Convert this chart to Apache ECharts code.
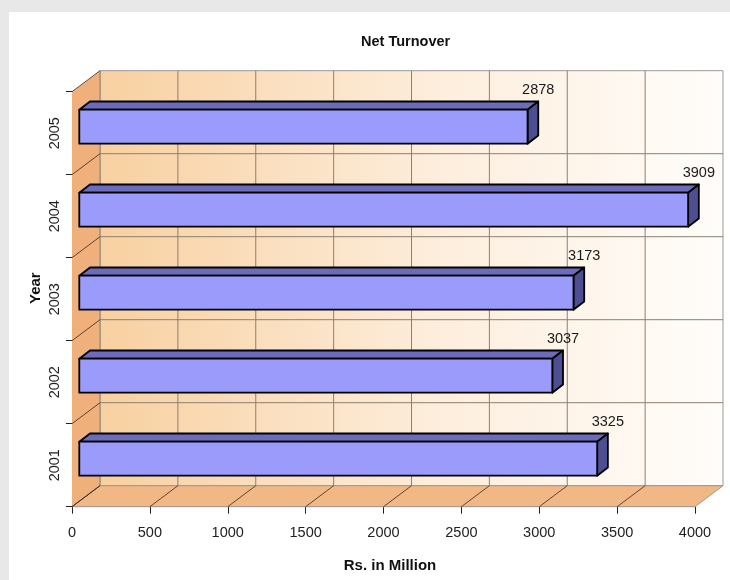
<!DOCTYPE html>
<html>
<head>
<meta charset="utf-8">
<title>Net Turnover</title>
<script src="https://cdn.jsdelivr.net/npm/echarts@6.0.0/dist/echarts.min.js"></script>
<style>
  html, body { margin: 0; padding: 0; background: #e8e8e8; }
  #panel { position: absolute; left: 9px; top: 12px; width: 721px; height: 568px; background: #ffffff; }
  #chart { position: absolute; left: 0; top: 0; width: 730px; height: 580px; }
</style>
</head>
<body>
<div id="panel"></div>
<div id="chart"></div>
<script>
// Net turnover by year, Rs. in Million
const years = ['2001', '2002', '2003', '2004', '2005'];
const turnover = [3325, 3037, 3173, 3909, 2878];
const xMin = 0;
const xMax = 4000;
const xStep = 500;

const FONT = 'Arial, "Liberation Sans", Helvetica, sans-serif';

// Pseudo-3D depth of the plot box (pixels)
const DX = 28, DY = -21;
// Bars sit part-way into the box
const FDX = 7.3, FDY = -6.5;   // offset of a bar's front face
const BDX = 10.7, BDY = -8.2;  // depth of a bar
const BAR_FRAC = 0.41;         // bar thickness as share of a category band

const GRID_COLOR = '#8c8070';
const EDGE_COLOR = '#9a9a9a';

function renderFrame(params, api) {
  const cs = params.coordSys;
  const x0 = cs.x, x1 = cs.x + cs.width;
  const yT = cs.y, yB = cs.y + cs.height;
  const n = years.length;
  const band = cs.height / n;
  const kids = [];

  // back wall
  kids.push({
    type: 'rect',
    shape: { x: x0 + DX, y: yT + DY, width: cs.width, height: cs.height },
    style: {
      fill: new echarts.graphic.LinearGradient(0, 0, 1, 0, [
        { offset: 0, color: '#f8d0a0' },
        { offset: 0.55, color: '#fdeedd' },
        { offset: 1, color: '#fffdfa' }
      ]),
      stroke: EDGE_COLOR, lineWidth: 1
    }
  });
  // left wall
  kids.push({
    type: 'polygon',
    shape: { points: [[x0, yT], [x0 + DX, yT + DY], [x0 + DX, yB + DY], [x0, yB]] },
    style: { fill: '#efb07b' }
  });
  // floor
  kids.push({
    type: 'polygon',
    shape: { points: [[x0, yB], [x0 + DX, yB + DY], [x1 + DX, yB + DY], [x1, yB]] },
    style: { fill: '#f1b784', stroke: EDGE_COLOR, lineWidth: 1 }
  });

  // vertical grid on back wall, diagonals on floor
  for (let v = xMin; v < xMax; v += xStep) {
    const px = api.coord([v, 0])[0];
    kids.push({
      type: 'line',
      shape: { x1: px + DX, y1: yT + DY, x2: px + DX, y2: yB + DY },
      style: { stroke: GRID_COLOR, lineWidth: 1 }
    });
    kids.push({
      type: 'line',
      shape: { x1: px, y1: yB, x2: px + DX, y2: yB + DY },
      style: { stroke: '#3a2a1a', lineWidth: 0.8 }
    });
  }
  // horizontal grid on back wall, diagonals on left wall
  for (let k = 0; k <= n; k++) {
    const py = yB - k * band;
    if (k > 0 && k < n) {
      kids.push({
        type: 'line',
        shape: { x1: x0 + DX, y1: py + DY, x2: x1 + DX, y2: py + DY },
        style: { stroke: GRID_COLOR, lineWidth: 1 }
      });
    }
    kids.push({
      type: 'line',
      shape: { x1: x0, y1: py, x2: x0 + DX, y2: py + DY },
      style: { stroke: '#3a2a1a', lineWidth: 0.8 }
    });
  }
  return { type: 'group', children: kids };
}

function renderBar(params, api) {
  const v = api.value(0);
  const idx = api.value(1);
  const base = api.coord([0, idx]);
  const end = api.coord([v, idx]);
  const band = api.size([0, 1])[1];
  const h = band * BAR_FRAC;
  const xl = base[0] + FDX, xr = end[0] + FDX;
  const yt = base[1] + FDY - h / 2, yb = yt + h;
  const edge = { stroke: '#000', lineWidth: 1.8, lineJoin: 'round' };
  return {
    type: 'group',
    children: [
      {
        type: 'polygon',
        shape: { points: [[xl, yt], [xl + BDX, yt + BDY], [xr + BDX, yt + BDY], [xr, yt]] },
        style: Object.assign({ fill: '#6c6cba' }, edge)
      },
      {
        type: 'polygon',
        shape: { points: [[xr, yt], [xr + BDX, yt + BDY], [xr + BDX, yb + BDY], [xr, yb]] },
        style: Object.assign({ fill: '#4e4e92' }, edge)
      },
      {
        type: 'rect',
        shape: { x: xl, y: yt, width: xr - xl, height: h },
        style: Object.assign({ fill: '#9b9bfb' }, edge)
      },
      {
        type: 'text',
        style: {
          text: String(v),
          x: xr + BDX, y: yt + BDY - 4,
          align: 'center', verticalAlign: 'bottom',
          fontSize: 14.5, fontFamily: FONT, fill: '#1a1a1a'
        }
      }
    ]
  };
}

const chart = echarts.init(document.getElementById('chart'), null, { renderer: 'canvas' });

chart.setOption({
  backgroundColor: 'transparent',
  animation: false,
  title: {
    text: 'Net Turnover',
    left: 361, top: 34, padding: 0,
    textStyle: { fontSize: 14.5, fontWeight: 'bold', color: '#111', fontFamily: FONT }
  },
  grid: {
    left: 72, right: 35, top: 91.7, bottom: 73.3,
    containLabel: false, outerBoundsMode: 'none'
  },
  xAxis: {
    type: 'value',
    min: xMin, max: xMax, interval: xStep,
    axisLine: { show: true, lineStyle: { color: '#666', width: 1 } },
    axisTick: { show: true, length: 7, lineStyle: { color: '#222' } },
    axisLabel: { margin: 19, fontSize: 14.5, color: '#222', fontFamily: FONT, formatter: (v) => String(v) },
    splitLine: { show: false },
    name: 'Rs. in Million',
    nameLocation: 'middle',
    nameGap: 52,
    nameMoveOverlap: false,
    nameTextStyle: { fontWeight: 'bold', fontSize: 15, color: '#111', fontFamily: FONT, padding: [0, 0, 0, 13] }
  },
  yAxis: {
    type: 'category',
    data: years,
    axisLine: { show: true, lineStyle: { color: '#222', width: 1 } },
    axisTick: { show: true, length: 6, lineStyle: { color: '#222' } },
    axisLabel: { rotate: 90, margin: 10, fontSize: 14.5, color: '#222', fontFamily: FONT },
    splitLine: { show: false },
    name: 'Year',
    nameLocation: 'middle',
    nameGap: 29,
    nameMoveOverlap: false,
    nameTextStyle: { fontWeight: 'bold', fontSize: 15, color: '#111', fontFamily: FONT, padding: [0, 0, 0, 22] }
  },
  series: [
    {
      type: 'custom',
      name: 'frame',
      data: [[0, 0]],
      encode: { x: 0, y: 1 },
      clip: false,
      silent: true,
      z: 1,
      renderItem: renderFrame
    },
    {
      type: 'custom',
      name: 'Net Turnover',
      data: turnover.map((v, i) => [v, i]),
      encode: { x: 0, y: 1 },
      clip: false,
      z: 3,
      renderItem: renderBar
    }
  ]
});
</script>
</body>
</html>
